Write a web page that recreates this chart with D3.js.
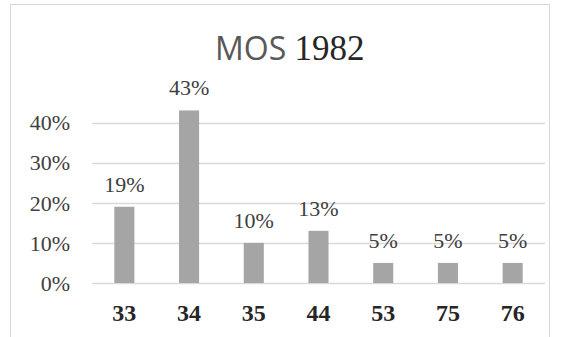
<!DOCTYPE html>
<html>
<head>
<meta charset="utf-8">
<script src="https://cdn.jsdelivr.net/npm/d3@7"></script>
<style>
  html, body { margin: 0; padding: 0; background: #fff; }
  svg { display: block; }
</style>
</head>
<body>
<svg id="chart" width="561" height="337"></svg>
<script>
// Share of entries per MOS code, 1982
const categories = ["33", "34", "35", "44", "53", "75", "76"];
const shares = [0.19, 0.43, 0.10, 0.13, 0.05, 0.05, 0.05];
const yTicks = [0, 0.1, 0.2, 0.3, 0.4];
const titleWord = "MOS";
const titleYear = "1982";

const svg = d3.select("#chart");
const W = 561, H = 337;
const margin = { left: 92, right: 16, top: 123, bottom: 54 };
const serif = "'Liberation Serif', 'Times New Roman', serif";

// Chart frame
svg.append("rect")
  .attr("x", 10.5).attr("y", 4.5)
  .attr("width", 539).attr("height", 340)
  .attr("fill", "#fff").attr("stroke", "#d9d9d9").attr("stroke-width", 1);

const x = d3.scaleBand()
  .domain(categories)
  .range([margin.left, W - margin.right])
  .paddingInner(0.69).paddingOuter(0.345);

const y = d3.scaleLinear()
  .domain([0, 0.4])
  .range([283, 122.5]);

// Horizontal gridlines
svg.append("g")
  .selectAll("line")
  .data(yTicks)
  .join("line")
  .attr("x1", margin.left).attr("x2", W - margin.right)
  .attr("y1", d => Math.round(y(d)) + 0.5)
  .attr("y2", d => Math.round(y(d)) + 0.5)
  .attr("stroke", "#d9d9d9").attr("stroke-width", 1.5);

// Y axis labels
const yAxis = d3.axisLeft(y).tickValues(yTicks).tickSize(0).tickPadding(0)
  .tickFormat(d3.format(".0%"));
const yg = svg.append("g").attr("transform", `translate(${70},0)`).call(yAxis);
yg.select(".domain").remove();
yg.selectAll("text")
  .attr("font-family", serif)
  .attr("font-size", 22).attr("fill", "#404040").attr("dy", "0.33em");

// Bars
svg.append("g")
  .selectAll("rect")
  .data(shares)
  .join("rect")
  .attr("x", (d, i) => x(categories[i]))
  .attr("width", x.bandwidth())
  .attr("y", d => y(d))
  .attr("height", d => y(0) - y(d))
  .attr("fill", "#a5a5a5");

// Value labels
svg.append("g")
  .selectAll("text")
  .data(shares)
  .join("text")
  .attr("x", (d, i) => x(categories[i]) + x.bandwidth() / 2)
  .attr("y", d => y(d) - 15)
  .attr("text-anchor", "middle")
  .attr("font-family", serif)
  .attr("font-size", 22).attr("fill", "#404040")
  .text(d => d3.format(".0%")(d));

// Category axis
const xAxis = d3.axisBottom(x).tickSize(0).tickPadding(0);
const xg = svg.append("g").attr("transform", `translate(0,${321})`).call(xAxis);
xg.select(".domain").remove();
xg.selectAll("text")
  .attr("font-family", serif)
  .attr("font-size", 24).attr("font-weight", "bold").attr("fill", "#262626")
  .attr("dy", "0");

// Title: word in sans, year in serif
const title = svg.append("text")
  .attr("x", 215).attr("y", 60)
  .attr("fill", "#595959");
title.append("tspan")
  .attr("font-family", "'Open Sans', 'Noto Sans', sans-serif")
  .attr("font-size", 32)
  .text(titleWord + " ");
title.append("tspan")
  .attr("font-family", serif)
  .attr("font-size", 35).attr("fill", "#262626")
  .text(titleYear);
</script>
</body>
</html>
